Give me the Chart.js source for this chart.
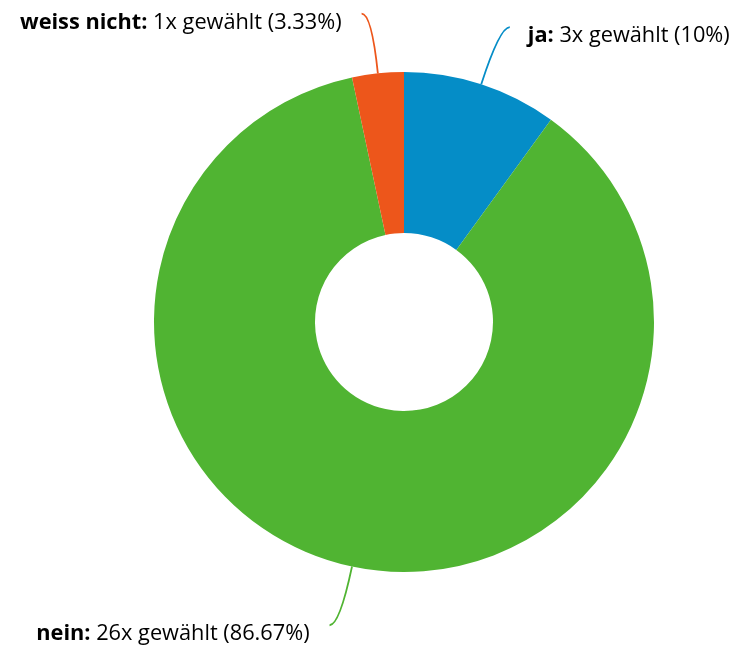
<!DOCTYPE html>
<html>
<head>
<meta charset="utf-8">
<script src="https://cdn.jsdelivr.net/npm/chart.js@4.4.1/dist/chart.umd.min.js"></script>
<style>
  html, body { margin: 0; padding: 0; background: #ffffff; }
  #wrap { position: relative; width: 743px; height: 650px; }
</style>
</head>
<body>
<div id="wrap"><canvas id="c" width="743" height="650"></canvas></div>
<script>
const categories = ['ja', 'nein', 'weiss nicht'];
const counts = [3, 26, 1];
const colors = ['#058DC7', '#50B432', '#ED561B'];
const suffixText = 'x gewählt';

const total = counts.reduce((a, b) => a + b, 0);

const labelPlugin = {
  id: 'connectorLabels',
  afterDatasetsDraw(chart) {
    const ctx = chart.ctx;
    const meta = chart.getDatasetMeta(0);
    const fontSize = 21.75;
    meta.data.forEach((arc, i) => {
      const p = arc.getProps(['x', 'y', 'startAngle', 'endAngle', 'outerRadius'], true);
      const mid = (p.startAngle + p.endAngle) / 2;
      const R = p.outerRadius;
      const cx = Math.cos(mid), sy = Math.sin(mid);
      const side = cx >= 0 ? 1 : -1;
      const x0 = p.x + cx * R, y0 = p.y + sy * R;
      const xc = p.x + cx * (R + 60), yc = p.y + sy * (R + 60);
      const xe = xc + side * 10, ye = yc;
      ctx.save();
      ctx.strokeStyle = colors[i];
      ctx.lineWidth = 1.8;
      ctx.beginPath();
      ctx.moveTo(x0, y0);
      ctx.quadraticCurveTo(xc, yc, xe, ye);
      ctx.stroke();

      const pct = Math.round(counts[i] / total * 10000) / 100;
      const boldPart = categories[i] + ': ';
      const regPart = counts[i] + suffixText + ' (' + pct + '%)';
      const boldFont = 'bold ' + fontSize + 'px "Open Sans"';
      const regFont = fontSize + 'px "Open Sans"';
      ctx.font = boldFont;
      const wb = ctx.measureText(boldPart).width;
      ctx.font = regFont;
      const wr = ctx.measureText(regPart).width;
      let tx = side > 0 ? xe + 18 : xe - 20 - wb - wr;
      const ty = ye + 15;
      ctx.fillStyle = '#000000';
      ctx.textBaseline = 'alphabetic';
      ctx.textAlign = 'left';
      ctx.font = boldFont;
      ctx.fillText(boldPart, tx, ty);
      ctx.font = regFont;
      ctx.fillText(regPart, tx + wb, ty);
      ctx.restore();
    });
  }
};

new Chart(document.getElementById('c'), {
  type: 'doughnut',
  data: {
    labels: categories,
    datasets: [{
      data: counts,
      backgroundColor: colors,
      borderWidth: 0,
      hoverOffset: 0
    }]
  },
  options: {
    responsive: false,
    animation: false,
    cutout: '35.6%',
    layout: { padding: { left: 154, right: 89, top: 72, bottom: 78 } },
    plugins: {
      legend: { display: false },
      tooltip: { enabled: false }
    }
  },
  plugins: [labelPlugin]
});
</script>
</body>
</html>
